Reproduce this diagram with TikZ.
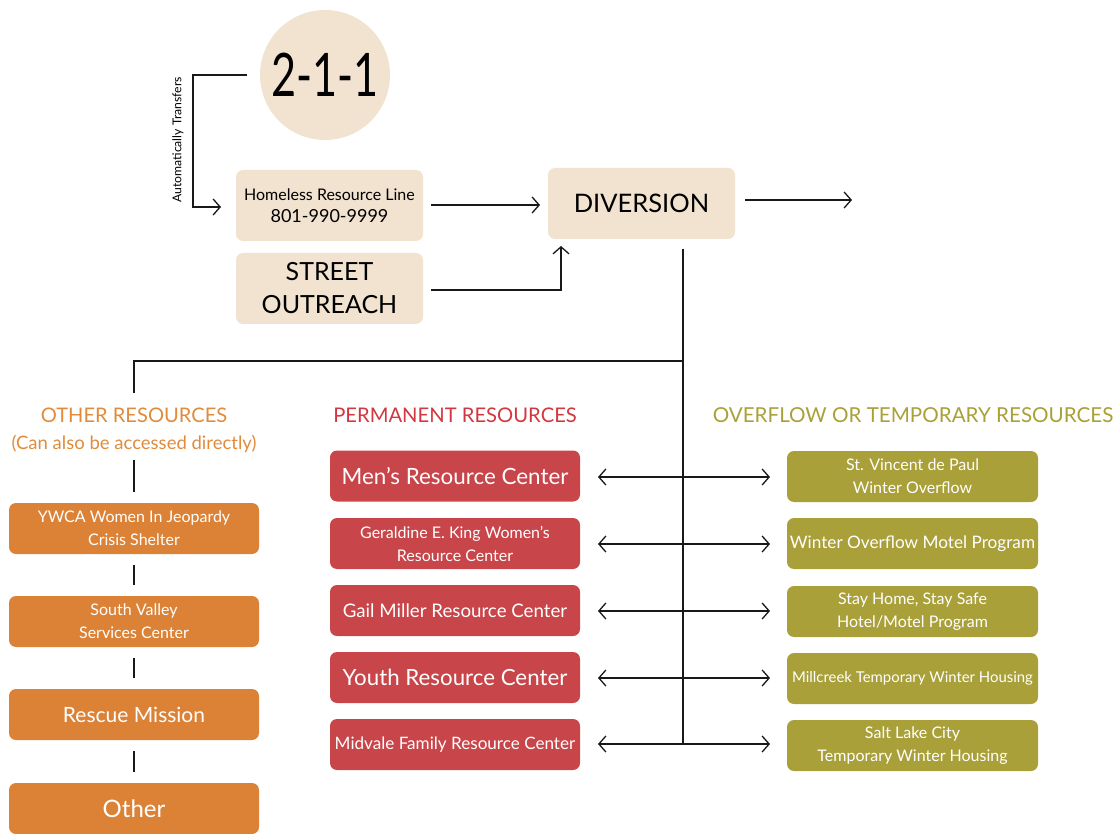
\documentclass[tikz,border=0pt]{standalone}
\usepackage{fontspec}
\setmainfont{Lato}
\usetikzlibrary{arrows.meta}
\definecolor{beige}{HTML}{F1E3D0}
\definecolor{orgbox}{HTML}{DC8236}
\definecolor{redbox}{HTML}{C8454A}
\definecolor{olvbox}{HTML}{A9A03A}
\definecolor{orgtxt}{HTML}{E08B3C}
\definecolor{redtxt}{HTML}{D2373F}
\definecolor{olvtxt}{HTML}{A9A037}
\newcommand{\fs}[1]{\fontsize{#1}{1.25*#1}\selectfont}
\tikzset{
  conn/.style={line width=1.3pt, draw=black!90},
  arr/.style={conn, -{Straight Barb[length=7pt,width=16pt,line width=1.3pt]}},
  darr/.style={conn, {Straight Barb[length=7pt,width=16pt,line width=1.3pt]}-{Straight Barb[length=7pt,width=16pt,line width=1.3pt]}},
  bbox/.style={fill=beige, rounded corners=7pt, minimum width=187pt, minimum height=71pt, inner sep=0pt, align=center, text=black},
  obox/.style={fill=orgbox, rounded corners=7pt, minimum width=250pt, minimum height=51pt, inner sep=0pt, align=center, text=white},
  rbox/.style={fill=redbox, rounded corners=7pt, minimum width=250pt, minimum height=51pt, inner sep=0pt, align=center, text=white},
  vbox/.style={fill=olvbox, rounded corners=7pt, minimum width=251pt, minimum height=51pt, inner sep=0pt, align=center, text=white},
  hdr/.style={inner sep=0pt, align=center},
}
\begin{document}
\begin{tikzpicture}[x=1pt,y=-1pt]
\useasboundingbox (0,0) rectangle (1119,834);
% top
\node[circle, fill=beige, minimum size=130pt, inner sep=0pt] (c211) at (325,75) {\scalebox{0.72}[1]{\fontsize{60}{60}\selectfont 2-1-1}};
\node[bbox, font=\fontsize{16}{22}\selectfont] (hrl) at (329.5,205.5) {Homeless Resource Line\\{\fontsize{18}{22}\selectfont 801-990-9999}};
\node[bbox, font=\fontsize{25}{33}\selectfont] (so) at (329.5,288.5) {STREET\\OUTREACH};
\node[bbox, font=\fontsize{25.5}{30}\selectfont] (div) at (641.5,203.5) {DIVERSION};
\coordinate (c1) at (247,75);
\coordinate (c2) at (193,75);
\coordinate (c3) at (193,207);
\coordinate (hrlin) at (221,207);
\draw[arr] (c1) -- (c2) -- (c3) -- (hrlin);
\node[rotate=90, inner sep=0pt, font=\fontsize{12.2}{14}\selectfont] (auto) at (178,140) {Automatically Transfers};
\coordinate (hrlout) at (431,205);
\coordinate (divin) at (540,205);
\draw[arr] (hrlout) -- (divin);
\coordinate (soout) at (431,290);
\coordinate (socorner) at (561,290);
\coordinate (divbot) at (561,246);
\draw[arr] (soout) -- (socorner) -- (divbot);
\coordinate (divout) at (745,200);
\coordinate (divend) at (852,200);
\draw[arr] (divout) -- (divend);
% trunk
\coordinate (t0) at (683,249);
\coordinate (tsplit) at (683,361);
\coordinate (tend) at (683,744);
\coordinate (lsplit) at (134,361);
\coordinate (lend) at (134,393);
\draw[conn] (t0) -- (tend);
\draw[conn] (tsplit) -- (lsplit) -- (lend);
% headers
\node[hdr, text=orgtxt, font=\fontsize{20.1}{24}\selectfont] (hother) at (134,415) {OTHER RESOURCES};
\node[hdr, text=orgtxt, font=\fontsize{18.5}{22}\selectfont] (hother2) at (134,444) {(Can also be accessed directly)};
\node[hdr, text=redtxt, font=\fontsize{20.2}{24}\selectfont] (hperm) at (455,415) {PERMANENT RESOURCES};
\node[hdr, text=olvtxt, font=\fontsize{20.6}{24}\selectfont] (hover) at (913,415) {OVERFLOW OR TEMPORARY RESOURCES};
% other resources
\node[obox, font=\fontsize{16}{23}\selectfont] (o1) at (134,528.5) {YWCA Women In Jeopardy\\Crisis Shelter};
\node[obox, font=\fontsize{16}{23}\selectfont] (o2) at (134,621.5) {South Valley\\Services Center};
\node[obox, font=\fontsize{21}{26}\selectfont] (o3) at (134,714.5) {Rescue Mission};
\node[obox, font=\fontsize{24}{28}\selectfont] (o4) at (134,808.5) {Other};
\coordinate (oh) at (134,460);
\coordinate (oh2) at (134,492);
\draw[conn] (oh) -- (oh2);
\draw[conn] ([yshift=-11pt]o1.south) -- ([yshift=11pt]o2.north);
\draw[conn] ([yshift=-11pt]o2.south) -- ([yshift=11pt]o3.north);
\draw[conn] ([yshift=-11pt]o3.south) -- ([yshift=11pt]o4.north);
% permanent
\node[rbox, font=\fontsize{22.4}{28}\selectfont] (r1) at (455,476) {Men's Resource Center};
\node[rbox, font=\fontsize{16}{23}\selectfont] (r2) at (455,543.5) {Geraldine E. King Women's\\Resource Center};
\node[rbox, font=\fontsize{18.7}{24}\selectfont] (r3) at (455,610.5) {Gail Miller Resource Center};
\node[rbox, font=\fontsize{22.3}{28}\selectfont] (r4) at (455,677.5) {Youth Resource Center};
\node[rbox, font=\fontsize{17.1}{22}\selectfont] (r5) at (455,744.5) {Midvale Family Resource Center};
% overflow
\node[vbox, font=\fontsize{16}{23}\selectfont] (v1) at (912.5,476.5) {St. Vincent de Paul\\Winter Overflow};
\node[vbox, font=\fontsize{17.2}{23}\selectfont] (v2) at (912.5,543.5) {Winter Overflow Motel Program};
\node[vbox, font=\fontsize{16}{23}\selectfont] (v3) at (912.5,611.5) {Stay Home, Stay Safe\\Hotel/Motel Program};
\node[vbox, font=\fontsize{14.9}{20}\selectfont] (v4) at (912.5,678.5) {Millcreek Temporary Winter Housing};
\node[vbox, font=\fontsize{16}{23}\selectfont] (v5) at (912.5,745.5) {Salt Lake City\\Temporary Winter Housing};
% double arrows
\foreach \i/\y in {1/477,2/544,3/611,4/678,5/744}{
  \coordinate (al\i) at (598,\y);
  \coordinate (ar\i) at (770,\y);
  \draw[darr] (al\i) -- (ar\i);
}
\end{tikzpicture}
\end{document}
